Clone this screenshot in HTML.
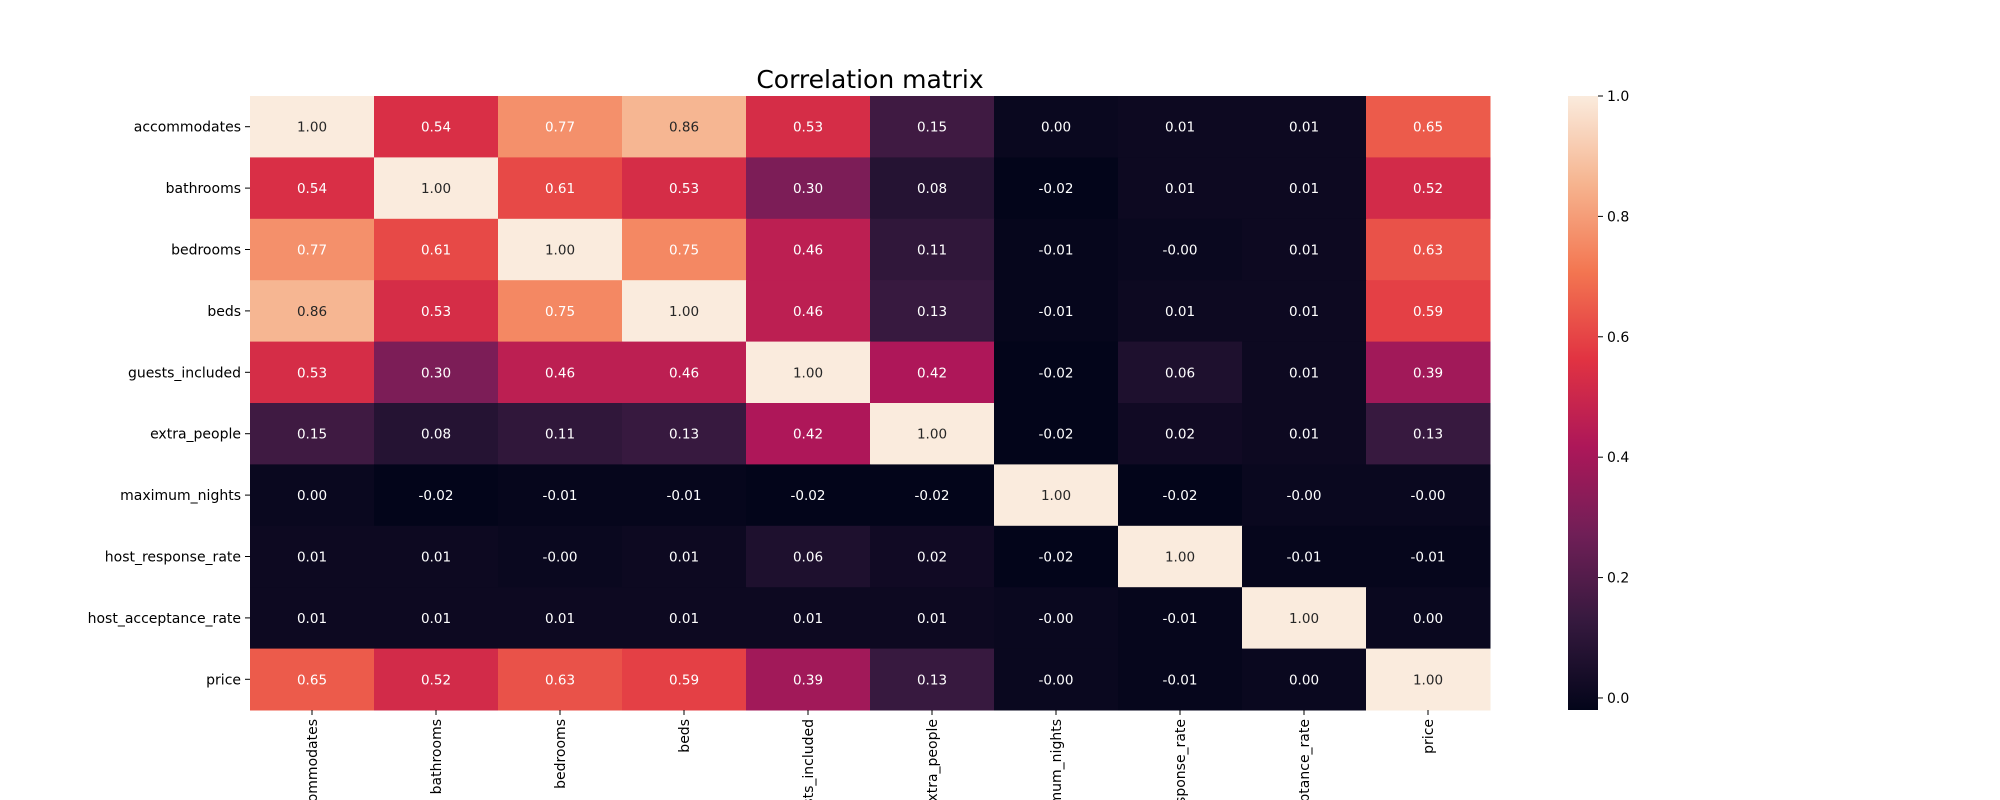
<!DOCTYPE html>
<html><head><meta charset="utf-8"><style>
html,body{margin:0;padding:0;background:#fff;width:2000px;height:800px;overflow:hidden;}
svg{display:block;font-family:"DejaVu Sans","Liberation Sans",sans-serif;overflow:hidden;}
</style></head><body>
<svg id="chart" width="2000" height="800" viewBox="0 0 2000 800" xmlns="http://www.w3.org/2000/svg">
<defs>
<linearGradient id="cbgrad" x1="0" y1="1" x2="0" y2="0">
<stop offset="0" stop-color="#03051a"/>
<stop offset="0.143" stop-color="#35193e"/>
<stop offset="0.286" stop-color="#701f57"/>
<stop offset="0.429" stop-color="#ad1759"/>
<stop offset="0.571" stop-color="#e13342"/>
<stop offset="0.714" stop-color="#f37651"/>
<stop offset="0.857" stop-color="#f6b48f"/>
<stop offset="1" stop-color="#faebdd"/>
</linearGradient>
</defs>
<text x="870" y="88" font-size="25" text-anchor="middle" fill="#000">Correlation matrix</text>
<g id="cells"></g>
<g id="ylabels"></g>
<g id="xlabels"></g>
<rect x="1568" y="96" width="30" height="614" fill="url(#cbgrad)"/>
<g id="cbticks"></g>
</svg>
<script>
const labels = ["accommodates","bathrooms","bedrooms","beds","guests_included","extra_people","maximum_nights","host_response_rate","host_acceptance_rate","price"];
const row0 = [1.00,0.54,0.77,0.86,0.53,0.15,0.00,0.01,0.01,0.65];
const row1 = [0.54,1.00,0.61,0.53,0.30,0.08,-0.02,0.01,0.01,0.52];
const row2 = [0.77,0.61,1.00,0.75,0.46,0.11,-0.01,-0.00,0.01,0.63];
const row3 = [0.86,0.53,0.75,1.00,0.46,0.13,-0.01,0.01,0.01,0.59];
const row4 = [0.53,0.30,0.46,0.46,1.00,0.42,-0.02,0.06,0.01,0.39];
const row5 = [0.15,0.08,0.11,0.13,0.42,1.00,-0.02,0.02,0.01,0.13];
const row6 = [0.00,-0.02,-0.01,-0.01,-0.02,-0.02,1.00,-0.02,-0.00,-0.00];
const row7 = [0.01,0.01,-0.00,0.01,0.06,0.02,-0.02,1.00,-0.01,-0.01];
const row8 = [0.01,0.01,0.01,0.01,0.01,0.01,-0.00,-0.01,1.00,0.00];
const row9 = [0.65,0.52,0.63,0.59,0.39,0.13,-0.00,-0.01,0.00,1.00];
const matrix = [row0,row1,row2,row3,row4,row5,row6,row7,row8,row9];
const cbTickValues = [0.0,0.2,0.4,0.6,0.8,1.0];
const vmin = -0.02, vmax = 1.0;

const NS = "http://www.w3.org/2000/svg";
const X0 = 250, X1 = 1490, Y0 = 96, Y1 = 710;
const cw = (X1 - X0) / labels.length, ch = (Y1 - Y0) / labels.length;
const xPos = i => X0 + i * cw;
const yPos = i => Y0 + i * ch;
const cbY = v => Y1 - (v - vmin) / (vmax - vmin) * (Y1 - Y0);

const stops = [[0,[3,5,26]],[0.143,[53,25,62]],[0.286,[112,31,87]],[0.429,[173,23,89]],[0.571,[225,51,66]],[0.714,[243,118,81]],[0.857,[246,180,143]],[1,[250,235,221]]];
function cmap(v){
  let t = Math.max(0, Math.min(1, (v - vmin) / (vmax - vmin)));
  for (let k = 1; k < stops.length; k++) {
    if (t <= stops[k][0]) {
      const a = stops[k-1], b = stops[k];
      const f = (t - a[0]) / (b[0] - a[0]);
      return a[1].map((c, j) => Math.round(c + (b[1][j] - c) * f));
    }
  }
  return stops[stops.length-1][1];
}
function lum(rgb){
  const l = rgb.map(c => { c/=255; return c <= 0.03928 ? c/12.92 : Math.pow((c+0.055)/1.055, 2.4); });
  return 0.2126*l[0] + 0.7152*l[1] + 0.0722*l[2];
}
function mk(tag, attrs, parent){
  const e = document.createElementNS(NS, tag);
  for (const k in attrs) e.setAttribute(k, attrs[k]);
  parent.appendChild(e);
  return e;
}
const cells = document.getElementById("cells");
matrix.forEach((row, r) => {
  row.forEach((v, c) => {
    const rgb = cmap(v);
    const rect = mk("rect", {x: xPos(c), y: yPos(r), width: cw + 0.5, height: ch + 0.5, fill: `rgb(${rgb.join(",")})`}, cells);
    
    
    const t = mk("text", {x: xPos(c) + cw/2, y: yPos(r) + ch/2 + 5, "font-size": 13.5, "text-anchor": "middle", fill: lum(rgb) > 0.408 ? "#262626" : "#ffffff"}, cells);
    
    
    t.textContent = (Object.is(v, -0) ? "-0.00" : v.toFixed(2));
  });
});

const yl = document.getElementById("ylabels");
labels.forEach((lab, i) => {
  const tk = mk("line", {x1: X0 - 5, x2: X0, y1: yPos(i) + ch/2, y2: yPos(i) + ch/2, stroke: "#000", "stroke-width": 1}, yl);
  
  
  const t = mk("text", {x: X0 - 9, y: yPos(i) + ch/2 + 5, "font-size": 14, "text-anchor": "end", fill: "#000"}, yl);
  
  
  t.textContent = lab;
});
const xl = document.getElementById("xlabels");
labels.forEach((lab, i) => {
  const cx = xPos(i) + cw/2;
  const tk = mk("line", {x1: cx, x2: cx, y1: Y1, y2: Y1 + 5, stroke: "#000", "stroke-width": 1}, xl);
  
  
  const t = mk("text", {x: 0, y: 0, "font-size": 14, "text-anchor": "end", fill: "#000", transform: `translate(${cx + 5},${Y1 + 9}) rotate(-90)`}, xl);
  
  
  t.textContent = lab;
});
const cb = document.getElementById("cbticks");
cbTickValues.forEach(v => {
  const y = cbY(v);
  const tk = mk("line", {x1: 1598, x2: 1603, y1: y, y2: y, stroke: "#000", "stroke-width": 1}, cb);
  
  
  const t = mk("text", {x: 1607, y: y + 5, "font-size": 14, fill: "#000"}, cb);
  
  
  t.textContent = v.toFixed(1);
});
</script>
</body></html>
